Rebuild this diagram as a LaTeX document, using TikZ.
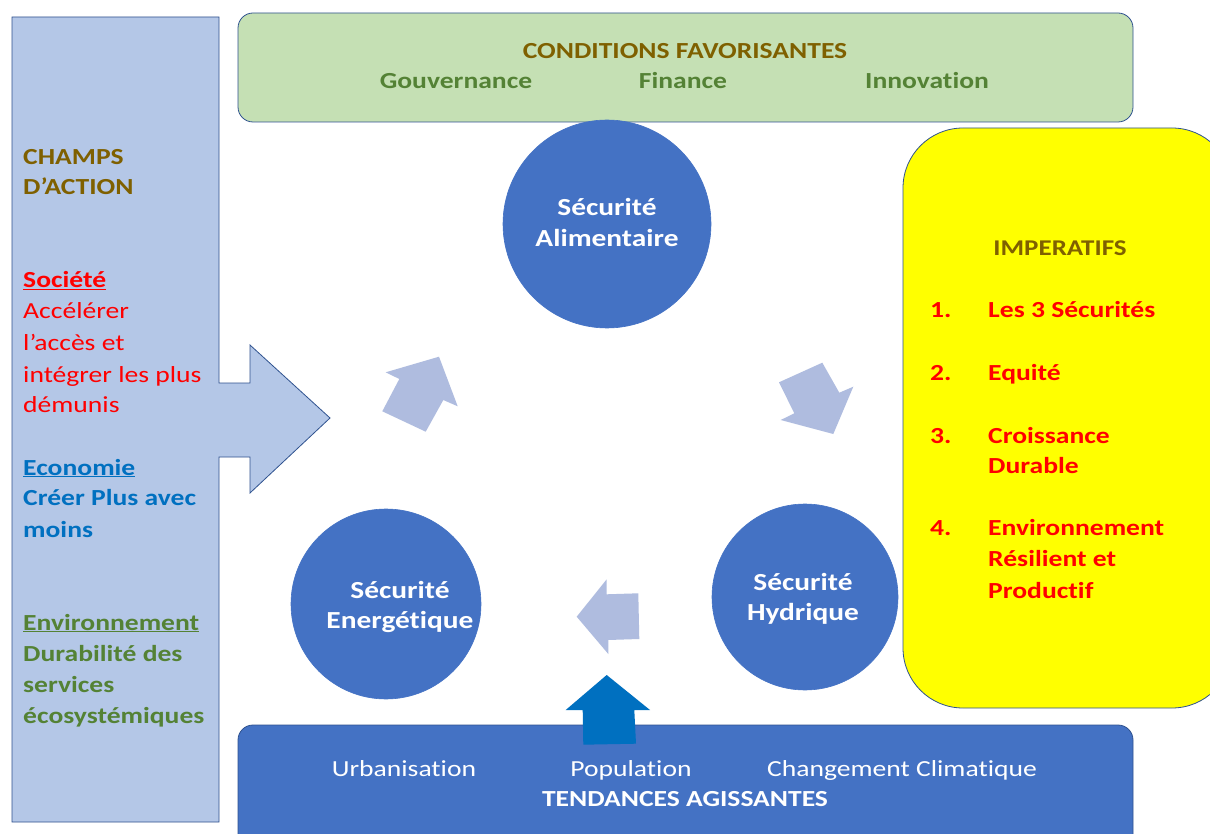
\documentclass[tikz,border=0pt]{standalone}
\usepackage{fontspec}
\setmainfont{Carlito}[FakeStretch=1.2, Ligatures=NoCommon]
\definecolor{panelblue}{HTML}{B4C7E7}
\definecolor{edgeblue}{HTML}{2F528F}
\definecolor{condgreen}{HTML}{C5E0B4}
\definecolor{circblue}{HTML}{4472C4}
\definecolor{lightarrow}{HTML}{AFBCDF}
\definecolor{darkarrow}{HTML}{0070C0}
\definecolor{brown}{HTML}{7F6000}
\definecolor{txtred}{HTML}{FF0000}
\definecolor{txtblue}{HTML}{0070C0}
\definecolor{txtgreen}{HTML}{548235}
\definecolor{impyellow}{HTML}{FFFF00}
\tikzset{
  lt/.style={inner sep=0pt, anchor=base west, font=\fontsize{23}{28}\selectfont},
  ct/.style={inner sep=0pt, anchor=base, font=\fontsize{23}{28}\selectfont},
  circt/.style={inner sep=0pt, anchor=base, text=white, font=\fontsize{24.5}{28}\selectfont\bfseries},
  secu/.style={circle, fill=circblue, draw=circblue, line width=0.6pt, inner sep=0pt},
  lightarr/.style={fill=lightarrow, draw=none},
}
\begin{document}
\begin{tikzpicture}[x=1pt,y=-1pt]
\useasboundingbox (0,0) rectangle (1210,834);
\clip (0,0) rectangle (1210,834);
\fill[white] (0,0) rectangle (1210,834);

% left panel with arrow
\draw[fill=panelblue, draw=edgeblue, line width=0.8pt]
  (12,17) -- (219,17) -- (219,383) -- (250,383) -- (250,345) -- (330,418)
  -- (250,493) -- (250,457) -- (219,457) -- (219,822) -- (12,822) -- cycle;

% top box
\draw[fill=condgreen, draw=edgeblue, line width=0.8pt, rounded corners=15pt]
  (238,13) rectangle (1133,122);
% yellow box
\draw[fill=impyellow, draw=edgeblue, line width=0.8pt, rounded corners=60pt]
  (903,128) rectangle (1232,708);
% bottom box
\draw[fill=circblue, draw=edgeblue, line width=0.8pt, rounded corners=15pt]
  (238,725) rectangle (1133,860);

% circles
\node[secu, minimum size=208pt] (alim) at (607,224) {};
\node[secu, minimum size=190pt] (ener) at (386,604) {};
\node[secu, minimum size=186pt] (hydr) at (805,597) {};

% light arrows
\fill[lightarr] (385.7,372.3) -- (439,356.7) -- (457.7,406.3) -- (443.3,400)
  -- (425.7,431.7) -- (382.3,411.3) -- (399.3,379) -- cycle;
\fill[lightarr] (779,382.3) -- (822.3,362.7) -- (839.3,392.7) -- (853.3,386.7)
  -- (833.3,434) -- (780.7,420) -- (794.3,413.3) -- cycle;
\fill[lightarr] (606.7,579.3) -- (606.7,594.3) -- (638.3,593.3) -- (639.3,639)
  -- (608.3,640) -- (608.3,654) -- (576.7,616.7) -- cycle;
% dark arrow
\fill[darkarrow] (606.7,675) -- (650,710) -- (634.3,710) -- (636,743.7)
  -- (583.3,744.7) -- (582.7,710) -- (565.7,710) -- cycle;

% top texts
\node[ct, text=brown, font=\fontsize{23}{28}\selectfont\bfseries] (cf) at (685,59) {CONDITIONS FAVORISANTES};
\node[ct, text=txtgreen, font=\fontsize{23}{28}\selectfont\bfseries] (gouv) at (456,89) {Gouvernance};
\node[ct, text=txtgreen, font=\fontsize{23}{28}\selectfont\bfseries] (fin) at (683,89) {Finance};
\node[ct, text=txtgreen, font=\fontsize{23}{28}\selectfont\bfseries] (innov) at (927,89) {Innovation};

% circle texts
\node[circt] (a1) at (607,216) {Sécurité};
\node[circt] (a2) at (607,247) {Alimentaire};
\node[circt] (e1) at (400,598) {Sécurité};
\node[circt] (e2) at (400,628) {Energétique};
\node[circt] (h1) at (803,590) {Sécurité};
\node[circt] (h2) at (803,620) {Hydrique};

% left panel texts
\node[lt, text=brown, font=\fontsize{23}{28}\selectfont\bfseries] (ch1) at (23,165) {CHAMPS};
\node[lt, text=brown, font=\fontsize{23}{28}\selectfont\bfseries] (ch2) at (23,195) {D’ACTION};
\node[lt, text=txtred, font=\fontsize{23}{28}\selectfont\bfseries] (so0) at (23,288) {\underline{Société}};
\node[lt, text=txtred] (so1) at (23,319) {Accélérer};
\node[lt, text=txtred] (so2) at (23,350) {l’accès et};
\node[lt, text=txtred] (so3) at (23,382) {intégrer les plus};
\node[lt, text=txtred] (so4) at (23,412) {démunis};
\node[lt, text=txtblue, font=\fontsize{23}{28}\selectfont\bfseries] (ec0) at (23,475) {\underline{Economie}};
\node[lt, text=txtblue, font=\fontsize{23}{28}\selectfont\bfseries] (ec1) at (23,505) {Créer Plus avec};
\node[lt, text=txtblue, font=\fontsize{23}{28}\selectfont\bfseries] (ec2) at (23,537) {moins};
\node[lt, text=txtgreen, font=\fontsize{23}{28}\selectfont\bfseries] (en0) at (23,630) {\underline{Environnement}};
\node[lt, text=txtgreen, font=\fontsize{23}{28}\selectfont\bfseries] (en1) at (23,661) {Durabilité des};
\node[lt, text=txtgreen, font=\fontsize{23}{28}\selectfont\bfseries] (en2) at (23,692) {services};
\node[lt, text=txtgreen, font=\fontsize{23}{28}\selectfont\bfseries] (en3) at (23,723) {écosystémiques};

% imperatifs
\node[ct, text=brown, font=\fontsize{22.5}{28}\selectfont\bfseries] (imp) at (1060,256) {IMPERATIFS};
\tikzset{num/.style={lt, text=txtred, font=\fontsize{23}{28}\selectfont\bfseries}}
\node[num] (n1) at (930,318) {1.};
\node[num] (i1) at (988,318) {Les 3 Sécurités};
\node[num] (n2) at (930,380) {2.};
\node[num] (i2) at (988,380) {Equité};
\node[num] (n3) at (930,443) {3.};
\node[num] (i3a) at (988,443) {Croissance};
\node[num] (i3b) at (988,473) {Durable};
\node[num] (n4) at (930,535) {4.};
\node[num] (i4a) at (988,535) {Environnement};
\node[num] (i4b) at (988,566) {Résilient et};
\node[num] (i4c) at (988,598) {Productif};

% bottom texts
\node[ct, text=white] (urb) at (404,776) {Urbanisation};
\node[ct, text=white] (pop) at (631,776) {Population};
\node[ct, text=white] (cc) at (902,776) {Changement Climatique};
\node[ct, text=white, font=\fontsize{23}{28}\selectfont\bfseries] (ta) at (685,806) {TENDANCES AGISSANTES};
\end{tikzpicture}
\end{document}
